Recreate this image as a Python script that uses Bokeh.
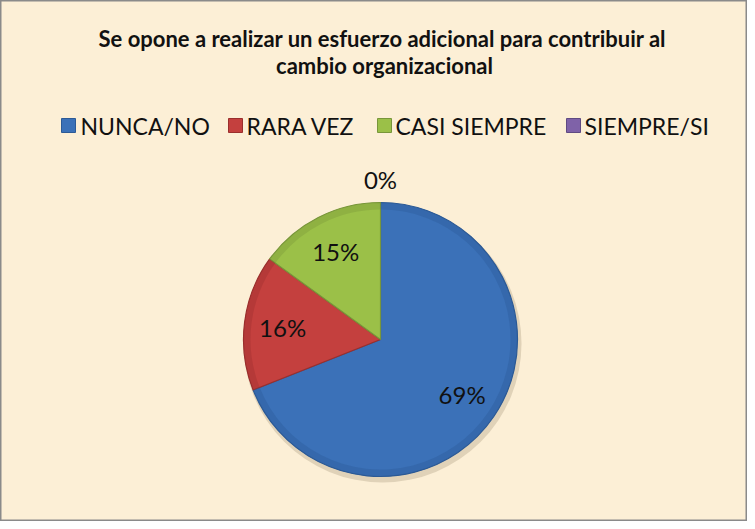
import numpy as np
from bokeh.plotting import figure
from bokeh.models import Range1d, ColumnDataSource
from bokeh.core.properties import value
from bokeh.embed import file_html
from bokeh.resources import INLINE

# ---- data ----
title_lines = ["Se opone a realizar un esfuerzo adicional para contribuir al",
               "cambio organizacional"]
categories = ["NUNCA/NO", "RARA VEZ", "CASI SIEMPRE", "SIEMPRE/SI"]
percent = [69, 16, 15, 0]
colors = ["#3B71B8", "#C4403E", "#9BC048", "#7F62A8"]
edge_colors = ["#2C5A96", "#9A2F2D", "#78963A", "#5F4A82"]

# ---- layout (page pixels -> data units, 1:1) ----
W, H = 747, 521
def X(px):  # window x -> data x
    return px - 8
def Y(py):  # window y -> data y
    return H - (py - 8)

p = figure(width=W, height=H, output_backend="svg", toolbar_location=None,
           x_range=Range1d(0, W), y_range=Range1d(0, H),
           min_border=0, min_border_left=0, min_border_right=0,
           min_border_top=0, min_border_bottom=0)
p.axis.visible = False
p.grid.visible = False
p.background_fill_color = "#FCEFD6"
p.border_fill_color = "#FCEFD6"
p.outline_line_color = "#8A8A8A"
p.outline_line_width = 2

font = value("Lato")

# ---- title ----
p.text(x=[X(390)], y=[Y(46)], text=[title_lines[0]], text_font=font,
       text_font_size="22px", text_font_style="bold", text_align="center",
       text_baseline="middle", text_color="#111111")
p.text(x=[X(392)], y=[Y(73)], text=[title_lines[1]], text_font=font,
       text_font_size="22px", text_font_style="bold", text_align="center",
       text_baseline="middle", text_color="#111111")

# ---- legend (manual, horizontal) ----
sq_x = [76, 243, 392, 581]
tx_x = [88, 254, 403, 592]
p.scatter(x=[X(v) for v in sq_x], y=[Y(133)] * 4, marker="square", size=14,
          fill_color=colors, line_color=edge_colors, line_width=1)
p.text(x=[X(v) for v in tx_x], y=[Y(133)] * 4, text=categories, text_font=font,
       text_font_size="23px", text_align="left", text_baseline="middle",
       text_color="#111111")

# ---- pie ----
cx, cy, R = X(388), Y(347), 137
vals = np.array(percent, dtype=float)
frac = vals / vals.sum()
cum = np.cumsum(frac)
prev = np.concatenate([[0.0], cum[:-1]])
start = np.pi / 2 - prev * 2 * np.pi
end = np.pi / 2 - cum * 2 * np.pi
mid = (start + end) / 2

nz = vals > 0
src = ColumnDataSource(dict(start=start[nz], end=end[nz],
                            color=[c for c, k in zip(colors, nz) if k],
                            edge=[c for c, k in zip(edge_colors, nz) if k]))

# soft shadow
p.circle(x=[cx + 2], y=[cy - 4], radius=R + 2, fill_color="#8a7a60",
         fill_alpha=0.25, line_color=None)

p.wedge(x=cx, y=cy, radius=R, start_angle="start", end_angle="end",
        direction="clock", fill_color="color", line_color="edge",
        line_width=1.2, source=src)
# bevel rim
p.annular_wedge(x=cx, y=cy, inner_radius=R - 7, outer_radius=R,
                start_angle="start", end_angle="end", direction="clock",
                fill_color="edge", fill_alpha=0.35, line_color=None, source=src)

# ---- data labels ----
lab_r = np.where(vals > 0, 0.72 * R, 1.17 * R)
lx = cx + lab_r * np.cos(mid)
ly = cy + lab_r * np.sin(mid)
labels = [f"{v:.0f}%" for v in vals]
p.text(x=lx, y=ly, text=labels, text_font=font, text_font_size="24px",
       text_align="center", text_baseline="middle", text_color="#111111")

open("out.html", "w").write(file_html(p, INLINE))
